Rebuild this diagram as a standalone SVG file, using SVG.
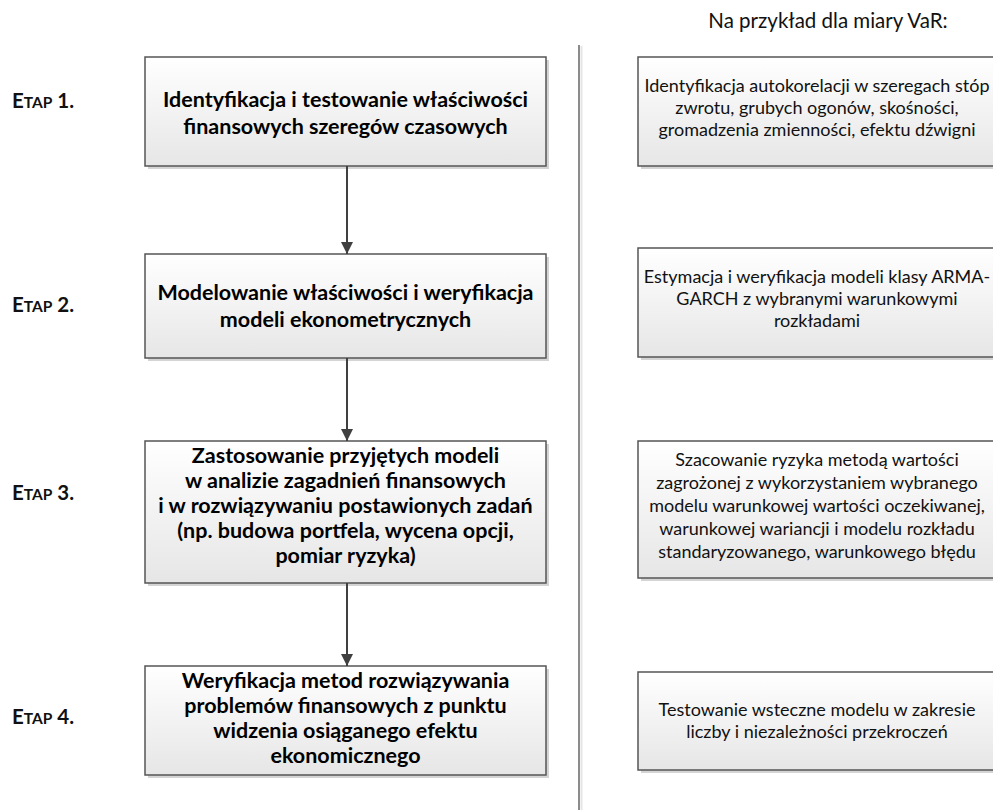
<svg xmlns="http://www.w3.org/2000/svg" width="993" height="810" viewBox="0 0 993 810">
<defs>
<linearGradient id="g" x1="0" y1="0" x2="0" y2="1">
<stop offset="0" stop-color="#ffffff"/>
<stop offset="1" stop-color="#e6e6e6"/>
</linearGradient>
<marker id="ah" markerWidth="12" markerHeight="12" viewBox="0 0 12 12" refX="12" refY="6" orient="auto" markerUnits="userSpaceOnUse">
<path d="M0,0 L12,6 L0,12 Z" fill="#404040"/>
</marker>
<style>
.sh{fill:#d4d4d4}
.bx{fill:url(#g);stroke:#555555;stroke-width:1.5}
.lt{font-family:Lato,"Open Sans","Liberation Sans",sans-serif;font-weight:bold;font-size:21.5px;fill:#000;text-anchor:middle}
.rt{font-family:Lato,"Open Sans","Liberation Sans",sans-serif;font-size:18px;fill:#111;text-anchor:middle}
.et{font-family:Lato,"Open Sans","Liberation Sans",sans-serif;font-weight:bold;font-size:20.5px;fill:#111}
.sc{font-size:15.5px}
.hd{font-family:Lato,"Open Sans","Liberation Sans",sans-serif;font-size:20.5px;fill:#111;text-anchor:middle}
.cn{stroke:#404040;stroke-width:2;fill:none}
</style>
</defs>
<rect width="993" height="810" fill="#ffffff"/>
<text class="hd" x="828" y="28">Na przykład dla miary VaR:</text>
<g id="divider">
<line x1="581.5" y1="46" x2="581.5" y2="810" stroke="#e6e6e6" stroke-width="2"/>
<line x1="579" y1="45" x2="579" y2="810" stroke="#7f7f7f" stroke-width="1.8"/>
</g>
<g id="etap1"><text class="et" x="12" y="108">E<tspan class="sc">TAP</tspan> 1.</text></g>
<g id="etap2"><text class="et" x="12" y="312">E<tspan class="sc">TAP</tspan> 2.</text></g>
<g id="etap3"><text class="et" x="12" y="500">E<tspan class="sc">TAP</tspan> 3.</text></g>
<g id="etap4"><text class="et" x="12" y="724">E<tspan class="sc">TAP</tspan> 4.</text></g>
<g id="step1">
<rect class="sh" x="148" y="60" width="401" height="109"/>
<rect class="bx" x="145" y="57" width="401" height="109"/>
<text class="lt" x="345.5" y="107">Identyfikacja i testowanie właściwości</text>
<text class="lt" x="345.5" y="134">finansowych szeregów czasowych</text>
</g>
<g id="step2">
<rect class="sh" x="148" y="257" width="401" height="104"/>
<rect class="bx" x="145" y="254" width="401" height="104"/>
<text class="lt" x="345.5" y="300">Modelowanie właściwości i weryfikacja</text>
<text class="lt" x="345.5" y="327">modeli ekonometrycznych</text>
</g>
<g id="step3">
<rect class="sh" x="148" y="444" width="401" height="142"/>
<rect class="bx" x="145" y="441" width="401" height="142"/>
<text class="lt" x="345.5" y="463">Zastosowanie przyjętych modeli</text>
<text class="lt" x="345.5" y="488">w analizie zagadnień finansowych</text>
<text class="lt" x="345.5" y="513">i w rozwiązywaniu postawionych zadań</text>
<text class="lt" x="345.5" y="538">(np. budowa portfela, wycena opcji,</text>
<text class="lt" x="345.5" y="563">pomiar ryzyka)</text>
</g>
<g id="step4">
<rect class="sh" x="148" y="669" width="401" height="109"/>
<rect class="bx" x="145" y="666" width="401" height="109"/>
<text class="lt" x="345.5" y="688">Weryfikacja metod rozwiązywania</text>
<text class="lt" x="345.5" y="713">problemów finansowych z punktu</text>
<text class="lt" x="345.5" y="738">widzenia osiąganego efektu</text>
<text class="lt" x="345.5" y="763">ekonomicznego</text>
</g>
<g id="ex1">
<rect class="sh" x="641" y="60" width="360" height="109"/>
<rect class="bx" x="638" y="57" width="360" height="109"/>
<text class="rt" x="817" y="92">Identyfikacja autokorelacji w szeregach stóp</text>
<text class="rt" x="817" y="114">zwrotu, grubych ogonów, skośności,</text>
<text class="rt" x="817" y="136">gromadzenia zmienności, efektu dźwigni</text>
</g>
<g id="ex2">
<rect class="sh" x="641" y="251" width="360" height="109"/>
<rect class="bx" x="638" y="248" width="360" height="109"/>
<text class="rt" x="817" y="283">Estymacja i weryfikacja modeli klasy ARMA-</text>
<text class="rt" x="817" y="305">GARCH z wybranymi warunkowymi</text>
<text class="rt" x="817" y="327">rozkładami</text>
</g>
<g id="ex3">
<rect class="sh" x="641" y="444" width="360" height="137"/>
<rect class="bx" x="638" y="441" width="360" height="137"/>
<text class="rt" x="817" y="466">Szacowanie ryzyka metodą wartości</text>
<text class="rt" x="817" y="489">zagrożonej z wykorzystaniem wybranego</text>
<text class="rt" x="817" y="512">modelu warunkowej wartości oczekiwanej,</text>
<text class="rt" x="817" y="535">warunkowej wariancji i modelu rozkładu</text>
<text class="rt" x="817" y="558">standaryzowanego, warunkowego błędu</text>
</g>
<g id="ex4">
<rect class="sh" x="641" y="675" width="360" height="98"/>
<rect class="bx" x="638" y="672" width="360" height="98"/>
<text class="rt" x="817" y="716">Testowanie wsteczne modelu w zakresie</text>
<text class="rt" x="817" y="738">liczby i niezależności przekroczeń</text>
</g>
<g id="connectors">
<line class="cn" x1="347" y1="166" x2="347" y2="254" marker-end="url(#ah)"/>
<line class="cn" x1="347" y1="358" x2="347" y2="441" marker-end="url(#ah)"/>
<line class="cn" x1="347" y1="583" x2="347" y2="666" marker-end="url(#ah)"/>
</g>
</svg>
